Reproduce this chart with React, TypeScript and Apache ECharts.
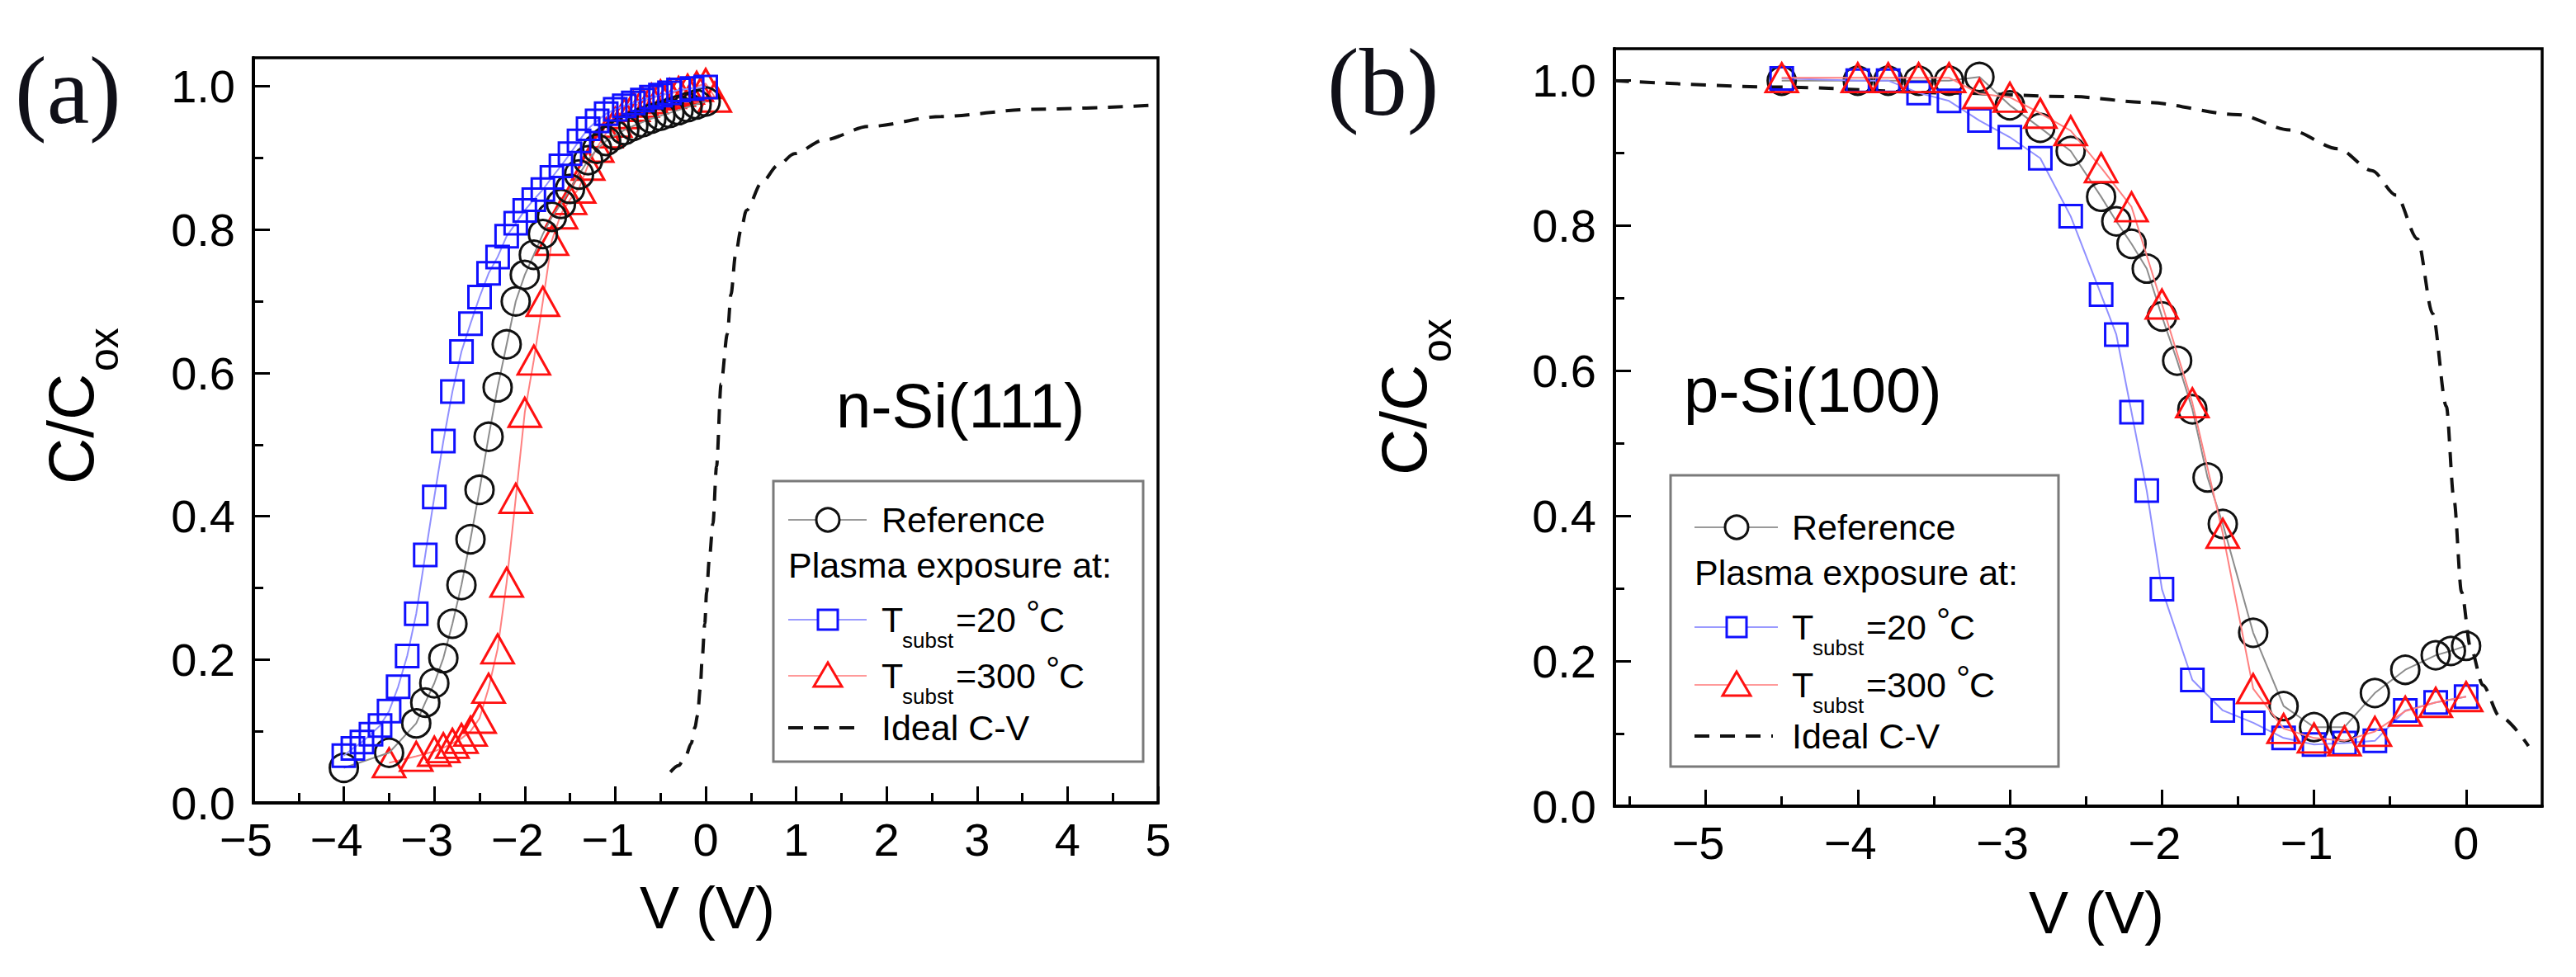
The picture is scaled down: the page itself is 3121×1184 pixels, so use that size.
import React, { useEffect, useRef } from "react";
import * as echarts from "echarts";

// ---------- Panel (a): n-Si(111) ----------
const aReference = [
  [-4.0, 0.049], [-3.5, 0.070], [-3.2, 0.111], [-3.1, 0.140], [-3.0, 0.167], [-2.9, 0.202],
  [-2.8, 0.250], [-2.7, 0.304], [-2.6, 0.368], [-2.5, 0.437], [-2.4, 0.511], [-2.3, 0.580],
  [-2.2, 0.640], [-2.1, 0.700], [-2.0, 0.737], [-1.9, 0.765], [-1.8, 0.794], [-1.7, 0.818],
  [-1.6, 0.836], [-1.5, 0.857], [-1.4, 0.877], [-1.3, 0.897], [-1.2, 0.913], [-1.1, 0.924],
  [-1.0, 0.932], [-0.9, 0.939], [-0.8, 0.945], [-0.7, 0.950], [-0.6, 0.955], [-0.5, 0.959],
  [-0.4, 0.963], [-0.3, 0.967], [-0.2, 0.971], [-0.1, 0.975], [0.0, 0.979],
];
const aT20 = [
  [-4.0, 0.066], [-3.9, 0.076], [-3.8, 0.085], [-3.7, 0.096], [-3.6, 0.108], [-3.5, 0.128],
  [-3.4, 0.162], [-3.3, 0.205], [-3.2, 0.264], [-3.1, 0.346], [-3.0, 0.427], [-2.9, 0.505],
  [-2.8, 0.574], [-2.7, 0.630], [-2.6, 0.669], [-2.5, 0.706], [-2.4, 0.739], [-2.3, 0.762],
  [-2.2, 0.791], [-2.1, 0.809], [-2.0, 0.827], [-1.9, 0.842], [-1.8, 0.856], [-1.7, 0.873],
  [-1.6, 0.889], [-1.5, 0.906], [-1.4, 0.924], [-1.3, 0.941], [-1.2, 0.952], [-1.1, 0.962],
  [-1.0, 0.968], [-0.9, 0.973], [-0.8, 0.977], [-0.7, 0.981], [-0.6, 0.985], [-0.5, 0.988],
  [-0.4, 0.991], [-0.3, 0.995], [-0.15, 0.997], [0.0, 0.999],
];
const aT300 = [
  [-3.5, 0.056], [-3.2, 0.065], [-3.0, 0.072], [-2.9, 0.077], [-2.8, 0.083], [-2.7, 0.090],
  [-2.6, 0.100], [-2.5, 0.118], [-2.4, 0.160], [-2.3, 0.215], [-2.2, 0.308], [-2.1, 0.425],
  [-2.0, 0.545], [-1.9, 0.618], [-1.8, 0.700], [-1.7, 0.785], [-1.6, 0.822], [-1.5, 0.842],
  [-1.4, 0.858], [-1.3, 0.890], [-1.2, 0.915], [-1.1, 0.935], [-1.0, 0.950], [-0.9, 0.962],
  [-0.8, 0.972], [-0.7, 0.978], [-0.6, 0.983], [-0.5, 0.988], [-0.4, 0.990], [-0.3, 0.993],
  [-0.2, 0.996], [-0.1, 1.000], [0.0, 1.004], [0.1, 0.985],
];
const aIdeal = [
  [-0.39, 0.043], [-0.3, 0.052], [-0.22, 0.066], [-0.16, 0.083], [-0.12, 0.105], [-0.09, 0.122],
  [-0.06, 0.16], [-0.04, 0.199], [-0.01, 0.25], [0.01, 0.294], [0.04, 0.34], [0.08, 0.39],
  [0.12, 0.47], [0.17, 0.585], [0.24, 0.655], [0.28, 0.71], [0.33, 0.765], [0.39, 0.80],
  [0.45, 0.827], [0.62, 0.866], [0.8, 0.89], [0.98, 0.906], [1.3, 0.925], [1.8, 0.944],
  [2.6, 0.958], [3.6, 0.968], [5.0, 0.974],
];

// ---------- Panel (b): p-Si(100) ----------
const bReference = [
  [-4.5, 1.0], [-4.0, 1.0], [-3.8, 1.0], [-3.6, 1.0], [-3.4, 1.0], [-3.2, 1.005], [-3.0, 0.966],
  [-2.8, 0.935], [-2.6, 0.903], [-2.4, 0.840], [-2.3, 0.806], [-2.2, 0.775], [-2.1, 0.741],
  [-2.0, 0.675], [-1.9, 0.614], [-1.8, 0.547], [-1.7, 0.453], [-1.6, 0.389], [-1.4, 0.239],
  [-1.2, 0.138], [-1.0, 0.109], [-0.8, 0.109], [-0.6, 0.156], [-0.4, 0.188], [-0.2, 0.208],
  [-0.1, 0.214], [0.0, 0.221],
];
const bT20 = [
  [-4.5, 1.003], [-4.0, 1.0], [-3.8, 1.0], [-3.6, 0.983], [-3.4, 0.972], [-3.2, 0.945],
  [-3.0, 0.922], [-2.8, 0.893], [-2.6, 0.813], [-2.4, 0.705], [-2.3, 0.650], [-2.2, 0.543],
  [-2.1, 0.435], [-2.0, 0.299], [-1.8, 0.174], [-1.6, 0.132], [-1.4, 0.115], [-1.2, 0.094],
  [-1.0, 0.085], [-0.8, 0.087], [-0.6, 0.090], [-0.4, 0.132], [-0.2, 0.143], [0.0, 0.151],
];
const bT300 = [
  [-4.5, 1.004], [-4.0, 1.004], [-3.8, 1.004], [-3.6, 1.004], [-3.4, 1.004], [-3.2, 0.982],
  [-3.0, 0.977], [-2.8, 0.955], [-2.6, 0.931], [-2.4, 0.880], [-2.2, 0.826], [-2.0, 0.692],
  [-1.8, 0.556], [-1.6, 0.376], [-1.4, 0.162], [-1.2, 0.107], [-1.0, 0.094], [-0.8, 0.090],
  [-0.6, 0.103], [-0.4, 0.131], [-0.2, 0.143], [0.0, 0.151],
];
const bIdeal = [
  [-5.6, 1.0], [-4.5, 0.991], [-3.4, 0.983], [-2.6, 0.978], [-2.1, 0.970], [-1.5, 0.953],
  [-1.16, 0.932], [-0.84, 0.906], [-0.62, 0.876], [-0.46, 0.842], [-0.32, 0.782], [-0.22, 0.679],
  [-0.13, 0.551], [-0.08, 0.423], [-0.03, 0.295], [0.03, 0.218], [0.11, 0.167], [0.22, 0.124],
  [0.41, 0.083],
];

// ---------- Ticks ----------
const xTicksA = [-5, -4, -3, -2, -1, 0, 1, 2, 3, 4, 5];
const xMinorA = [-4.5, -3.5, -2.5, -1.5, -0.5, 0.5, 1.5, 2.5, 3.5, 4.5];
const xTicksB = [-5, -4, -3, -2, -1, 0];
const xMinorB = [-5.5, -4.5, -3.5, -2.5, -1.5, -0.5];
const yTicks = [0, 0.2, 0.4, 0.6, 0.8, 1.0];
const yMinor = [0.1, 0.3, 0.5, 0.7, 0.9];

// ---------- Texts ----------
const panelLabels = ["(a)", "(b)"];
const sampleLabels = ["n-Si(111)", "p-Si(100)"];
const xTitle = "V (V)";
const yTitleMain = "C/C";
const yTitleSub = "ox";
const legendTexts = ["Reference", "Plasma exposure at:", "T", "subst", "=20 ", "=300 ", "°", "C", "Ideal C-V"];

const SANS = "'Liberation Sans', Arial, sans-serif";
const SERIF = "'Liberation Serif', 'Times New Roman', serif";
const BLUE = "#1010ff";
const RED = "#ff1010";
const BLACK = "#111111";

function txt(x: number, y: number, text: string, size: number, extra: any = {}) {
  return {
    type: "text",
    x,
    y,
    silent: true,
    style: {
      text,
      fontSize: size,
      fontFamily: extra.fontFamily || SANS,
      fill: extra.fill || "#000",
      align: extra.align || "left",
      verticalAlign: "middle",
      textAlign: extra.align || "left",
      textVerticalAlign: "middle",
    },
  };
}

function yTitle(x0: number, y0: number) {
  return {
    type: "group",
    x: x0,
    y: y0,
    rotation: Math.PI / 2,
    silent: true,
    children: [
      { type: "text", x: 0, y: 0, style: { text: yTitleMain, fontSize: 78, fontFamily: SANS, fill: "#000", align: "left", verticalAlign: "middle", textAlign: "left", textVerticalAlign: "middle" } },
      { type: "text", x: 137, y: 40, style: { text: yTitleSub, fontSize: 50, fontFamily: SANS, fill: "#000", align: "left", verticalAlign: "middle", textAlign: "left", textVerticalAlign: "middle" } },
    ],
  };
}

function legend(box: number[], rows: number[], lineX: number[], markX: number, textX: number) {
  const [bx, by, bw, bh] = box;
  const [l1, l2] = lineX;
  const els: any[] = [];
  els.push({ type: "rect", silent: true, shape: { x: bx, y: by, width: bw, height: bh }, style: { fill: "none", stroke: "#7a7a7a", lineWidth: 3 } });
  // Reference
  els.push({ type: "line", silent: true, shape: { x1: l1, y1: rows[0], x2: l2, y2: rows[0] }, style: { stroke: "#9a9a9a", lineWidth: 2 } });
  els.push({ type: "circle", silent: true, shape: { cx: markX, cy: rows[0], r: 14 }, style: { fill: "#fff", stroke: BLACK, lineWidth: 3 } });
  els.push(txt(textX, rows[0], legendTexts[0], 43));
  // Plasma exposure at:
  els.push(txt(l1, rows[1], legendTexts[1], 43));
  // T20
  els.push({ type: "line", silent: true, shape: { x1: l1, y1: rows[2], x2: l2, y2: rows[2] }, style: { stroke: "#9a9aff", lineWidth: 2 } });
  els.push({ type: "rect", silent: true, shape: { x: markX - 12, y: rows[2] - 12, width: 24, height: 24 }, style: { fill: "#fff", stroke: BLUE, lineWidth: 3 } });
  els.push(txt(textX, rows[2], legendTexts[2], 43));
  els.push(txt(textX + 25, rows[2] + 25, legendTexts[3], 26));
  els.push(txt(textX + 90, rows[2], legendTexts[4], 43));
  els.push(txt(textX + 175, rows[2] - 8, legendTexts[6], 43));
  els.push(txt(textX + 191, rows[2], legendTexts[7], 43));
  // T300
  els.push({ type: "line", silent: true, shape: { x1: l1, y1: rows[3], x2: l2, y2: rows[3] }, style: { stroke: "#ff9a9a", lineWidth: 2 } });
  els.push({ type: "polygon", silent: true, shape: { points: [[markX, rows[3] - 16], [markX + 17, rows[3] + 13], [markX - 17, rows[3] + 13]] }, style: { fill: "#fff", stroke: RED, lineWidth: 3 } });
  els.push(txt(textX, rows[3], legendTexts[2], 43));
  els.push(txt(textX + 25, rows[3] + 25, legendTexts[3], 26));
  els.push(txt(textX + 90, rows[3], legendTexts[5], 43));
  els.push(txt(textX + 199, rows[3] - 8, legendTexts[6], 43));
  els.push(txt(textX + 215, rows[3], legendTexts[7], 43));
  // Ideal
  els.push({ type: "line", silent: true, shape: { x1: l1, y1: rows[4], x2: l2 - 6, y2: rows[4] }, style: { stroke: BLACK, lineWidth: 4, lineDash: [18, 13] } });
  els.push(txt(textX, rows[4], legendTexts[8], 43));
  return els;
}

function xLabelFmt(v: number) {
  if (v < 0) return "{neg|\u2212" + Math.abs(v) + "}";
  return String(v);
}

function mainX(grid: number, min: number, max: number, ticks: number[]) {
  return {
    gridIndex: grid, type: "value", min, max, position: "bottom",
    axisLine: { show: true, onZero: false, lineStyle: { color: "#000", width: 4 } },
    axisTick: { show: true, inside: true, length: 20, customValues: ticks, lineStyle: { color: "#000", width: 3 } },
    axisLabel: {
      show: true, customValues: ticks, formatter: xLabelFmt, margin: 16, fontSize: 56, color: "#000", fontFamily: SANS,
      rich: { neg: { fontSize: 56, color: "#000", fontFamily: SANS, padding: [0, 18, 0, 0] } },
    },
    splitLine: { show: false },
  };
}
function minorX(grid: number, min: number, max: number, ticks: number[]) {
  return {
    gridIndex: grid, type: "value", min, max, position: "bottom",
    axisLine: { show: false, onZero: false },
    axisTick: { show: true, inside: true, length: 12, customValues: ticks, lineStyle: { color: "#000", width: 3 } },
    axisLabel: { show: false },
    splitLine: { show: false },
  };
}
function mainY(grid: number, max: number) {
  return {
    gridIndex: grid, type: "value", min: 0, max, position: "left",
    axisLine: { show: true, onZero: false, lineStyle: { color: "#000", width: 4 } },
    axisTick: { show: true, inside: true, length: 20, customValues: yTicks, lineStyle: { color: "#000", width: 3 } },
    axisLabel: { show: true, customValues: yTicks, formatter: (v: number) => v.toFixed(1), margin: 22, fontSize: 56, color: "#000", fontFamily: SANS },
    splitLine: { show: false },
  };
}
function minorY(grid: number, max: number) {
  return {
    gridIndex: grid, type: "value", min: 0, max, position: "left",
    axisLine: { show: false, onZero: false },
    axisTick: { show: true, inside: true, length: 12, customValues: yMinor, lineStyle: { color: "#000", width: 3 } },
    axisLabel: { show: false },
    splitLine: { show: false },
  };
}

function markerSeries(data: number[][], xi: number, yi: number, kind: string, z: number) {
  const common: any = {
    type: "line", xAxisIndex: xi, yAxisIndex: yi, data, showSymbol: true, showAllSymbol: true,
    silent: true, z, clip: false,
  };
  if (kind === "ref") {
    return { ...common, symbol: "circle", symbolSize: 34, lineStyle: { color: "#8c8c8c", width: 2 }, itemStyle: { color: "rgba(0,0,0,0)", borderColor: BLACK, borderWidth: 3 } };
  }
  if (kind === "t20") {
    return { ...common, symbol: "rect", symbolSize: 27, lineStyle: { color: "#9090ff", width: 2 }, itemStyle: { color: "rgba(0,0,0,0)", borderColor: BLUE, borderWidth: 3 } };
  }
  return { ...common, symbol: "triangle", symbolSize: [39, 35], lineStyle: { color: "#ff8080", width: 2 }, itemStyle: { color: "rgba(0,0,0,0)", borderColor: RED, borderWidth: 3 } };
}

function idealSeries(data: number[][], xi: number, yi: number) {
  return {
    type: "line", xAxisIndex: xi, yAxisIndex: yi, data, showSymbol: false, symbol: "none", silent: true,
    smooth: 0.3, smoothMonotone: "x", z: 2,
    lineStyle: { color: BLACK, width: 4, type: [18, 13] },
  };
}

export default function App() {
  const ref = useRef<HTMLDivElement>(null);
  useEffect(() => {
    document.body.style.margin = "0";
    document.body.style.overflow = "hidden";
    if (!ref.current) return;
    const chart = echarts.init(ref.current, null, { renderer: "svg" });
    const option: any = {
      animation: false,
      backgroundColor: "#ffffff",
      textStyle: { fontFamily: SANS },
      grid: [
        { left: 307, top: 70, width: 1096, height: 903, show: true, borderColor: "#000", borderWidth: 3.5, backgroundColor: "transparent" },
        { left: 1956, top: 59, width: 1124, height: 918, show: true, borderColor: "#000", borderWidth: 3.5, backgroundColor: "transparent" },
      ],
      xAxis: [
        mainX(0, -5, 5, xTicksA),
        minorX(0, -5, 5, xMinorA),
        mainX(1, -5.6, 0.5, xTicksB),
        minorX(1, -5.6, 0.5, xMinorB),
      ],
      yAxis: [mainY(0, 1.04), minorY(0, 1.04), mainY(1, 1.044), minorY(1, 1.044)],
      series: [
        idealSeries(aIdeal, 0, 0),
        markerSeries(aT300, 0, 0, "t300", 3),
        markerSeries(aReference, 0, 0, "ref", 4),
        markerSeries(aT20, 0, 0, "t20", 5),
        idealSeries(bIdeal, 2, 2),
        markerSeries(bReference, 2, 2, "ref", 3),
        markerSeries(bT20, 2, 2, "t20", 4),
        markerSeries(bT300, 2, 2, "t300", 5),
      ],
      graphic: [
        txt(18, 110, panelLabels[0], 116, { fontFamily: SERIF, fill: "#101018" }),
        txt(1608, 100, panelLabels[1], 116, { fontFamily: SERIF, fill: "#101018" }),
        txt(1013, 491, sampleLabels[0], 76),
        txt(2040, 472, sampleLabels[1], 76),
        txt(857, 1100, xTitle, 72, { align: "center" }),
        txt(2540, 1106, xTitle, 72, { align: "center" }),
        yTitle(86, 587),
        yTitle(1701, 576),
        ...legend([937, 583, 448, 340], [630, 685, 751, 819, 882], [955, 1050], 1003, 1068),
        ...legend([2024, 576, 470, 353], [639, 694, 760, 830, 892], [2053, 2154], 2104, 2171),
      ],
    };
    chart.setOption(option);
    return () => chart.dispose();
  }, []);
  return <div ref={ref} style={{ width: 3121, height: 1184 }} />;
}
